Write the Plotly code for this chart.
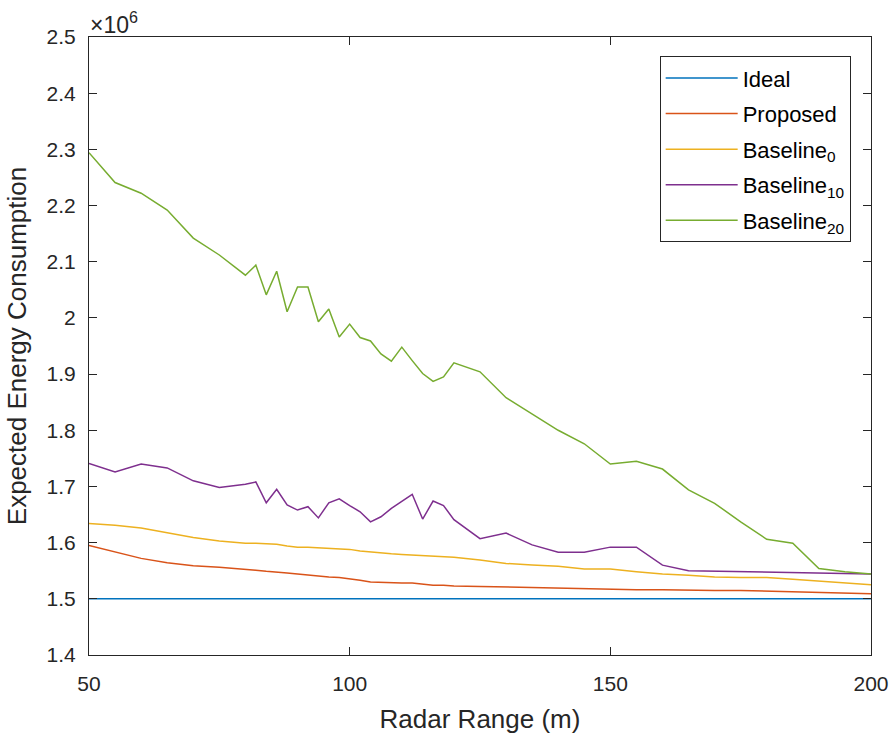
import plotly.graph_objects as go

# Radar range (m)
radar_range = [50, 55, 60, 65, 70, 75, 80, 82, 84, 86, 88, 90, 92, 94, 96, 98, 100,
               102, 104, 106, 108, 110, 112, 114, 116, 118, 120, 125, 130, 135, 140,
               145, 150, 155, 160, 165, 170, 175, 180, 185, 190, 195, 200]

# Expected energy consumption (x 1e6)
ideal = [1.5] * len(radar_range)
proposed = [1.595, 1.583, 1.572, 1.564, 1.559, 1.556, 1.553, 1.551, 1.549, 1.548, 1.546,
            1.544, 1.542, 1.540, 1.539, 1.538, 1.536, 1.533, 1.530, 1.529, 1.529, 1.528,
            1.528, 1.526, 1.524, 1.524, 1.523, 1.522, 1.521, 1.520, 1.519, 1.518, 1.516,
            1.516, 1.516, 1.515, 1.515, 1.515, 1.514, 1.513, 1.511, 1.510, 1.509]
baseline0 = [1.634, 1.631, 1.626, 1.618, 1.609, 1.603, 1.599, 1.599, 1.598, 1.597, 1.594,
             1.592, 1.592, 1.591, 1.591, 1.590, 1.588, 1.585, 1.583, 1.582, 1.580, 1.579,
             1.578, 1.577, 1.576, 1.575, 1.574, 1.569, 1.563, 1.560, 1.558, 1.553, 1.553,
             1.548, 1.544, 1.542, 1.539, 1.538, 1.538, 1.535, 1.532, 1.529, 1.525]
baseline10 = [1.741, 1.726, 1.740, 1.733, 1.710, 1.698, 1.704, 1.708, 1.671, 1.695, 1.667,
              1.658, 1.664, 1.644, 1.671, 1.678, 1.666, 1.655, 1.637, 1.646, 1.661, 1.674,
              1.686, 1.642, 1.674, 1.666, 1.641, 1.607, 1.617, 1.596, 1.583, 1.583, 1.592,
              1.592, 1.560, 1.550, 1.549, 1.548, 1.548, 1.547, 1.546, 1.545, 1.544]
baseline20 = [2.294, 2.241, 2.222, 2.192, 2.142, 2.112, 2.076, 2.094, 2.041, 2.083, 2.011,
              2.055, 2.055, 1.993, 2.016, 1.966, 1.989, 1.965, 1.959, 1.936, 1.923, 1.948,
              1.924, 1.901, 1.887, 1.895, 1.920, 1.904, 1.858, 1.829, 1.800, 1.776, 1.740,
              1.745, 1.731, 1.694, 1.670, 1.637, 1.606, 1.599, 1.554, 1.548, 1.544]

series_names = ["Ideal", "Proposed", "Baseline<sub>0</sub>", "Baseline<sub>10</sub>",
                "Baseline<sub>20</sub>"]
series_values = [ideal, proposed, baseline0, baseline10, baseline20]
colors = ["#0072BD", "#D95319", "#EDB120", "#7E2F8E", "#77AC30"]

x_ticks = [50, 100, 150, 200]
x_ticktext = ["50", "100", "150", "200"]
y_ticks = [1.4, 1.5, 1.6, 1.7, 1.8, 1.9, 2.0, 2.1, 2.2, 2.3, 2.4, 2.5]
y_ticktext = ["1.4", "1.5", "1.6", "1.7", "1.8", "1.9", "2", "2.1", "2.2", "2.3", "2.4", "2.5"]

FONT = "Liberation Sans, Arial, Helvetica, sans-serif"
AX = "#262626"

fig = go.Figure()
for i, (name, vals, c) in enumerate(zip(series_names, series_values, colors)):
    fig.add_trace(go.Scatter(x=radar_range, y=vals, mode="lines", name=name,
                             legendgroup=f"g{i}",
                             line=dict(color=c, width=1.5)))

axis_common = dict(showline=True, linecolor=AX, linewidth=1, mirror="ticks",
                   ticks="inside", ticklen=8, tickcolor=AX, tickwidth=1,
                   showgrid=False, zeroline=False,
                   tickfont=dict(family=FONT, size=21, color=AX))

fig.update_xaxes(range=[50, 200], tickvals=x_ticks, ticktext=x_ticktext,
                 ticklabelstandoff=10,
                 title=dict(text="Radar Range (m)", font=dict(family=FONT, size=26, color=AX),
                            standoff=15),
                 **axis_common)
fig.update_yaxes(range=[1.4, 2.5], tickvals=y_ticks, ticktext=y_ticktext,
                 ticklabelstandoff=8,
                 title=dict(text="Expected Energy Consumption",
                            font=dict(family=FONT, size=26, color=AX), standoff=12),
                 **axis_common)

fig.add_annotation(x=0, y=1, xref="paper", yref="paper", xanchor="left", yanchor="bottom",
                   text="×10<sup>6</sup>", showarrow=False, xshift=-1, yshift=-3,
                   font=dict(family=FONT, size=23, color=AX))

fig.update_layout(
    width=892, height=740,
    margin=dict(l=89, r=21, t=37, b=85, pad=0, autoexpand=False),
    paper_bgcolor="white", plot_bgcolor="white",
    showlegend=True,
    legend=dict(x=0.974, y=0.969, xanchor="right", yanchor="top",
                bgcolor="white", bordercolor=AX, borderwidth=1,
                font=dict(family=FONT, size=22, color="black"),
                itemwidth=72, tracegroupgap=4),
)

fig.write_html("out.html", config={"displayModeBar": False},
               post_script="document.body.style.margin='0';")
